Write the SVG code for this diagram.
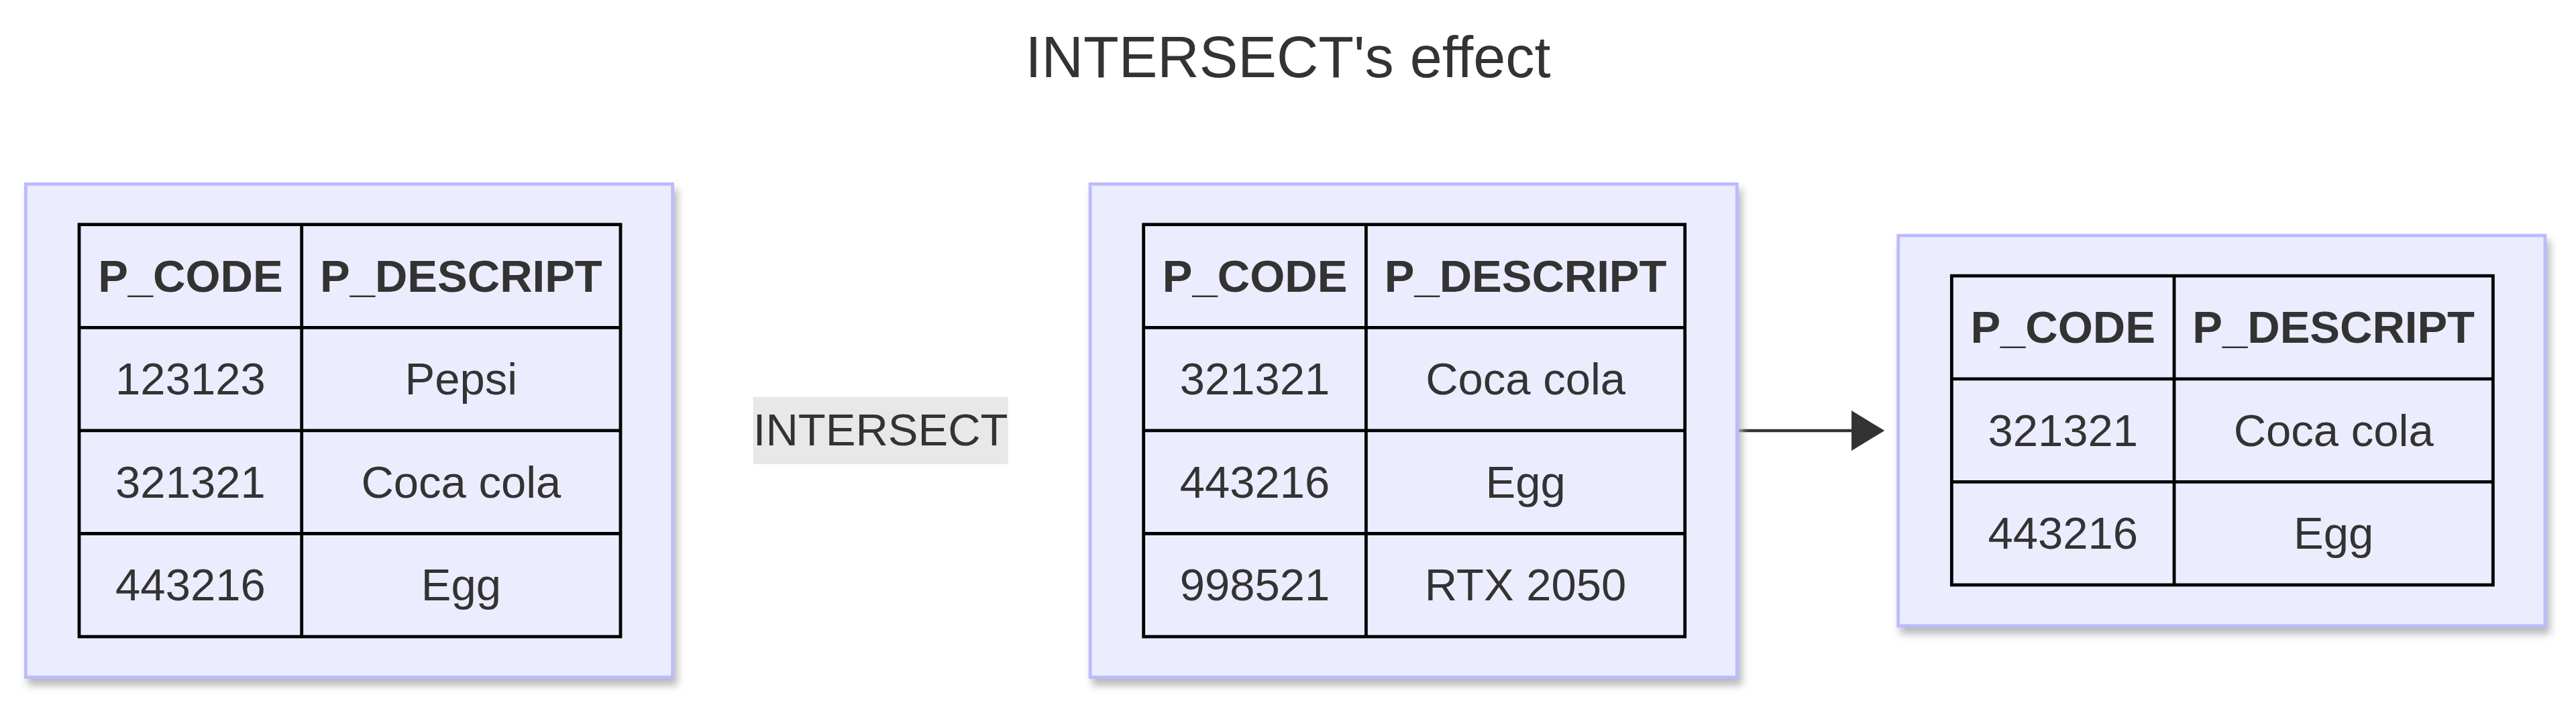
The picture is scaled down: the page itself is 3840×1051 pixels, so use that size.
<svg xmlns="http://www.w3.org/2000/svg" width="3840" height="1051" viewBox="0 0 3840 1051">
<style>
.bg{fill:#ffffff}
.box{fill:#ECECFF;stroke:#BBBBFF;stroke-width:4.8}
.tbl{fill:#ECECFF;stroke:#000000;stroke-width:4.8}
.grid{stroke:#000000;stroke-width:4.8;fill:none}
.th{font-family:"Liberation Sans",Arial,sans-serif;font-size:67px;font-weight:bold;fill:#333333;text-anchor:middle}
.td{font-family:"Liberation Sans",Arial,sans-serif;font-size:67px;fill:#333333;text-anchor:middle}
.title{font-family:"Liberation Sans",Arial,sans-serif;font-size:86.4px;fill:#333333;text-anchor:middle}
.lblbg{fill:#E8E8E8}
.lbl{font-family:"Liberation Sans",Arial,sans-serif;font-size:67px;fill:#333333;text-anchor:middle}
.edge{stroke:#333333;stroke-width:4.6;fill:none}
</style>
<defs>
<filter id="shadow" x="-10%" y="-10%" width="120%" height="120%">
<feDropShadow dx="5" dy="10" stdDeviation="6" flood-color="#b9b9b9" flood-opacity="1"/>
</filter>
<marker id="arrow" markerUnits="userSpaceOnUse" viewBox="0 0 50 60" refX="0" refY="30" markerWidth="50" markerHeight="60" orient="auto">
<path d="M0,0 L49.3,30 L0,60 Z" fill="#333333"/>
</marker>
</defs>
<rect class="bg" x="0" y="0" width="3840" height="1051"/>
<text class="title" x="1920" y="115">INTERSECT's effect</text>

<g id="connectors">
<line class="edge" x1="2591.7" y1="642" x2="2760" y2="642" marker-end="url(#arrow)"/>
<g id="label-intersect">
<rect class="lblbg" x="1122.7" y="591.7" width="380" height="100.3"/>
<text class="lbl" x="1312.7" y="664">INTERSECT</text>
</g>
</g>

<g id="node-table1">
<rect class="box" x="38.4" y="274.4" width="964.2" height="735.2" filter="url(#shadow)"/>
<rect class="tbl" x="118" y="334.7" width="807" height="614.4"/>
<path class="grid" d="M449.7,334.7 V949.1 M118,488.3 H925 M118,641.9 H925 M118,795.5 H925"/>
<text class="th" x="283.9" y="434.5">P_CODE</text>
<text class="th" x="687.4" y="434.5">P_DESCRIPT</text>
<text class="td" x="283.9" y="588.1">123123</text>
<text class="td" x="687.4" y="588.1">Pepsi</text>
<text class="td" x="283.9" y="741.7">321321</text>
<text class="td" x="687.4" y="741.7">Coca cola</text>
<text class="td" x="283.9" y="895.3">443216</text>
<text class="td" x="687.4" y="895.3">Egg</text>
</g>

<g id="node-table2">
<rect class="box" x="1625.1" y="274.4" width="964.2" height="735.2" filter="url(#shadow)"/>
<rect class="tbl" x="1704.7" y="334.7" width="807" height="614.4"/>
<path class="grid" d="M2036.4,334.7 V949.1 M1704.7,488.3 H2511.7 M1704.7,641.9 H2511.7 M1704.7,795.5 H2511.7"/>
<text class="th" x="1870.6" y="434.5">P_CODE</text>
<text class="th" x="2274.1" y="434.5">P_DESCRIPT</text>
<text class="td" x="1870.6" y="588.1">321321</text>
<text class="td" x="2274.1" y="588.1">Coca cola</text>
<text class="td" x="1870.6" y="741.7">443216</text>
<text class="td" x="2274.1" y="741.7">Egg</text>
<text class="td" x="1870.6" y="895.3">998521</text>
<text class="td" x="2274.1" y="895.3">RTX 2050</text>
</g>

<g id="node-result">
<rect class="box" x="2829.7" y="351.1" width="964.2" height="581.8" filter="url(#shadow)"/>
<rect class="tbl" x="2909.3" y="411.2" width="807" height="460.8"/>
<path class="grid" d="M3241,411.2 V872 M2909.3,564.8 H3716.3 M2909.3,718.4 H3716.3"/>
<text class="th" x="3075.2" y="511">P_CODE</text>
<text class="th" x="3478.7" y="511">P_DESCRIPT</text>
<text class="td" x="3075.2" y="664.6">321321</text>
<text class="td" x="3478.7" y="664.6">Coca cola</text>
<text class="td" x="3075.2" y="818.2">443216</text>
<text class="td" x="3478.7" y="818.2">Egg</text>
</g>
</svg>
